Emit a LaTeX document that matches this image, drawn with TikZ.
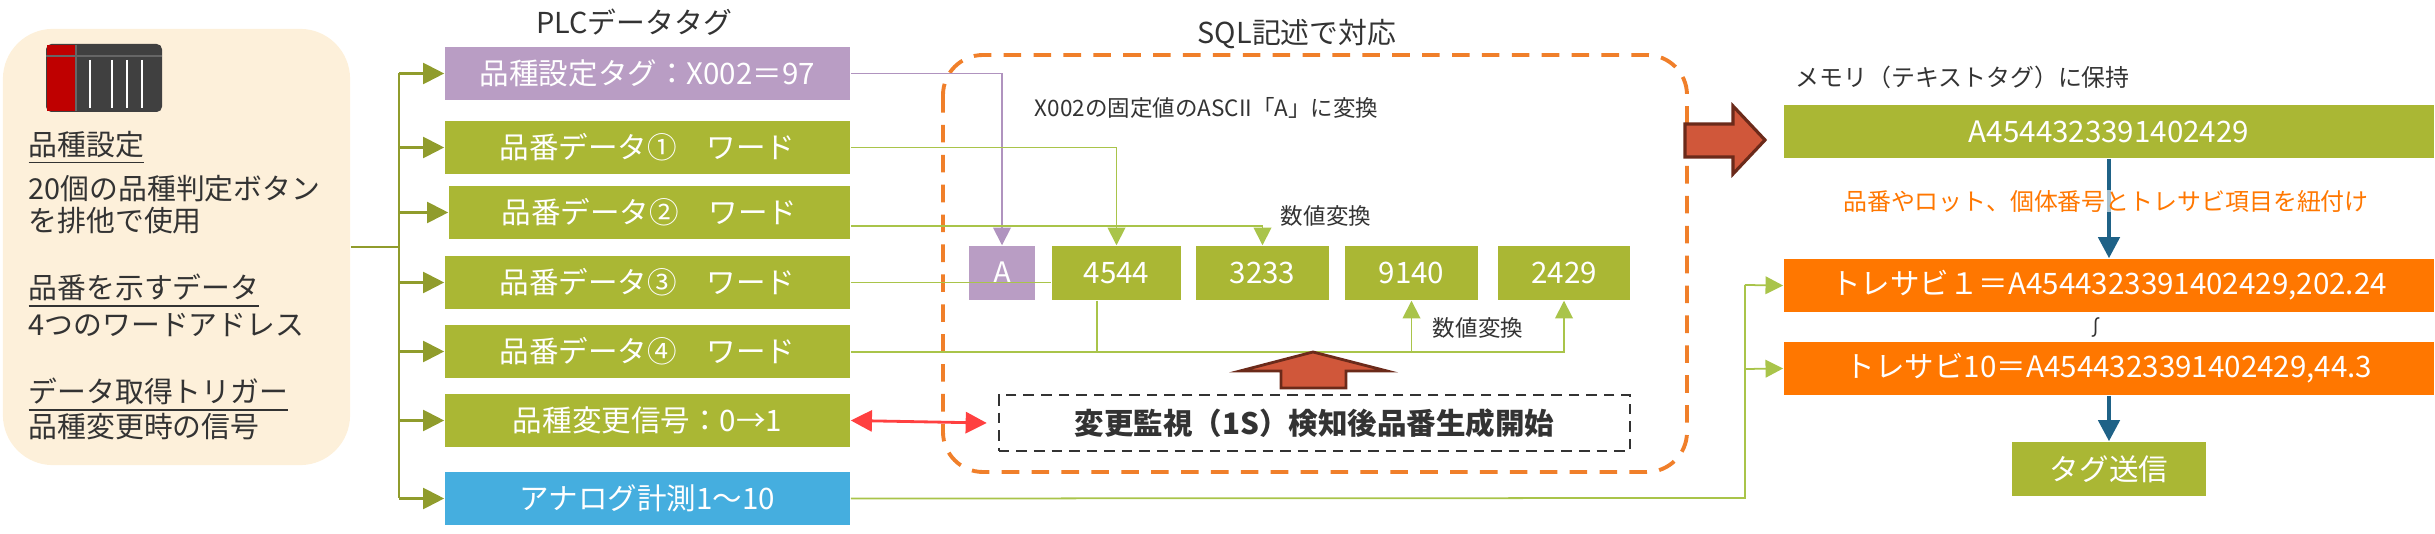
\documentclass[tikz,border=0pt]{standalone}
\usepackage{fontspec}
\setmainfont{Noto Sans CJK JP}
\usetikzlibrary{arrows.meta,shapes.arrows}
\definecolor{olive}{HTML}{AAB734}
\definecolor{lgreen}{HTML}{A9C44A}
\definecolor{purp}{HTML}{B99DC4}
\definecolor{lpurp}{HTML}{8E65A4}
\definecolor{sky}{HTML}{45AEDF}
\definecolor{org}{HTML}{FF7700}
\definecolor{dorg}{HTML}{F07F2A}
\definecolor{beige}{HTML}{FDF0DA}
\definecolor{redar}{HTML}{D0573A}
\definecolor{redbd}{HTML}{6B2A1A}
\definecolor{teal}{HTML}{1F6287}
\definecolor{txt}{HTML}{333333}
\begin{document}
\begin{tikzpicture}[x=0.01cm,y=-0.01cm,
  box/.style={fill=#1,text=white,inner sep=0pt,font=\fontsize{8.4pt}{10pt}\selectfont},
  tip/.style={-{Triangle[length=5pt,width=5pt]}},
  gl/.style={draw=lgreen,line width=0.5pt},
  lbl/.style={text=txt,font=\fontsize{6.4pt}{7pt}\selectfont,inner sep=0pt},
  lt/.style={text=txt,anchor=west,inner sep=0pt,font=\fontsize{8.2pt}{10pt}\selectfont}]
\useasboundingbox (0,0) rectangle (2435,534);
% left panel
\node[fill=beige,rounded corners=0.5cm,minimum width=3.47cm,minimum height=4.36cm,inner sep=0pt] (panel) at (176.5,247) {};
\fill[black!75,rounded corners=1.5pt] (46,44) rectangle (162,112);
\fill[red!75!black] (47,45) rectangle (76,111);
\foreach \x in {90,112,127,142}{\draw[white,line width=0.8pt] (\x,60) -- (\x,108);}
\draw[black!60] (76,45) -- (76,111) (46,56) -- (162,56);
\node[lt] (t1) at (28,148) {\underline{品種設定}};
\node[lt] (t2) at (28,189) {20個の品種判定ボタン};
\node[lt] (t3) at (28,221) {を排他で使用};
\node[lt] (t4) at (28,291) {\underline{品番を示すデータ}};
\node[lt] (t5) at (28,325) {4つのワードアドレス};
\node[lt] (t6) at (28,395) {\underline{データ取得トリガー}};
\node[lt] (t7) at (28,427) {品種変更時の信号};
% PLC tags
\node[lt,anchor=center] (plct) at (634,22) {PLCデータタグ};
\node[box=purp,minimum width=4.05cm,minimum height=0.53cm] (b1) at (647.5,73.5) {品種設定タグ：X002＝97};
\node[box=olive,minimum width=4.05cm,minimum height=0.53cm] (b2) at (647.5,147.5) {品番データ①\quad ワード};
\node[box=olive,minimum width=4.01cm,minimum height=0.53cm] (b3) at (649.5,212.5) {品番データ②\quad ワード};
\node[box=olive,minimum width=4.05cm,minimum height=0.53cm] (b4) at (647.5,282.5) {品番データ③\quad ワード};
\node[box=olive,minimum width=4.05cm,minimum height=0.53cm] (b5) at (647.5,351.5) {品番データ④\quad ワード};
\node[box=olive,minimum width=4.05cm,minimum height=0.53cm] (b6) at (647.5,420.5) {品種変更信号：0→1};
\node[box=sky,minimum width=4.05cm,minimum height=0.53cm] (b7) at (647.5,498.5) {アナログ計測1～10};
% bus
\coordinate (bus) at (399,247);
\draw[draw=olive!85!black,line width=0.6pt] (panel.east |- bus) -- (bus);
\draw[draw=olive!85!black,line width=0.6pt] (399,73) -- (399,498);
\foreach \b in {b1,b2,b3,b4,b5,b6,b7}{\draw[draw=olive!85!black,line width=0.6pt,-{Triangle[length=6pt,width=6pt]}] (399,0 |- \b.west) -- (\b.west);}
% SQL area
\node[lt,anchor=center] (sqlt) at (1297,34) {SQL記述で対応};
\draw[dorg,line width=1.1pt,dash pattern=on 5pt off 3.5pt,rounded corners=0.4cm] (943,55) rectangle (1687,472);
\node[lbl,anchor=west] (x002) at (1034,108) {X002の固定値のASCII「A」に変換};
\node[box=purp,minimum width=0.66cm,minimum height=0.54cm] (nA) at (1002,273) {A};
\node[box=olive,minimum width=1.29cm,minimum height=0.54cm] (n1) at (1116.5,273) {4544};
\node[box=olive,minimum width=1.33cm,minimum height=0.54cm] (n2) at (1262.5,273) {3233};
\node[box=olive,minimum width=1.33cm,minimum height=0.54cm] (n3) at (1411.5,273) {9140};
\node[box=olive,minimum width=1.32cm,minimum height=0.54cm] (n4) at (1564,273) {2429};
\draw[lpurp!70,line width=0.5pt,tip] (b1.east) -| (nA.north);
\draw[gl,tip] (b2.east) -| (n1.north);
\draw[gl,tip] (b3.east |- 0,226) -| (n2.north);
\node[lbl] (sv1) at (1326,216) {数値変換};
\draw[gl] (b4.east) -- (b4.east -| n1.west);
\coordinate (j5) at (1564,352);
\draw[gl,tip] (b5.east |- j5) -- (j5) -- (n4.south);
\draw[gl] ([xshift=-0.195cm]n1.south) -- ([xshift=-0.195cm]n1.south |- j5);
\draw[gl,tip] (n3.south |- j5) -- (n3.south);
\node[lbl] (sv2) at (1478,328) {数値変換};
\node[draw=black!80,dash pattern=on 3pt off 2pt,line width=0.6pt,minimum width=6.31cm,minimum height=0.56cm,inner sep=0pt,font=\bfseries\fontsize{8.4pt}{10pt}\selectfont,text=txt] (mon) at (1314.5,423) {変更監視（1S）検知後品番生成開始};
\draw[fill=redar,draw=redbd,line width=0.8pt] (1281,388) -- (1281,371) -- (1240,371) -- (1313,352) -- (1387,371) -- (1346,371) -- (1346,388) -- cycle;
\draw[red!75,line width=0.8pt,{Triangle[length=6pt,width=6pt]}-{Triangle[length=6pt,width=6pt]}] (b6.east) -- ([xshift=-0.11cm]mon.west);
% right
\draw[fill=redar,draw=redbd,line width=0.9pt] (1685,124) -- (1733,124) -- (1733,106) -- (1765,140) -- (1733,174) -- (1733,157) -- (1685,157) -- cycle;
\node[lbl,anchor=west,font=\fontsize{6.8pt}{8pt}\selectfont] (memt) at (1795,77) {メモリ（テキストタグ）に保持};
\node[box=olive,minimum width=6.5cm,minimum height=0.53cm] (mem) at (2109,131.5) {A4544323391402429};
\node[box=org,minimum width=6.5cm,minimum height=0.53cm] (tr1) at (2109,285.5) {トレサビ１＝A4544323391402429,202.24};
\node[box=org,minimum width=6.5cm,minimum height=0.53cm] (tr10) at (2109,368.5) {トレサビ10＝A4544323391402429,44.3};
\node[box=olive,minimum width=1.94cm,minimum height=0.54cm] (tag) at (2109,469) {タグ送信};
\draw[teal,line width=1.2pt,-{Triangle[length=6pt,width=6pt]}] (mem.south) -- (tr1.north);
\node[lbl,text=org,font=\fontsize{6.8pt}{8pt}\selectfont,fill=white,fill opacity=0.6,text opacity=1] (lnk) at (2106,201) {品番やロット、個体番号とトレサビ項目を紐付け};
\node[lbl,font=\fontsize{6pt}{7pt}\selectfont] (sq) at (2096,327) {∫};
\draw[teal,line width=1.2pt,-{Triangle[length=6pt,width=6pt]}] (tr10.south) -- (tag.north);
\coordinate (j7) at (1745,498);
\draw[gl] (b7.east) -- (j7) -- (1745,285);
\draw[gl,tip] (1745,285) -- (tr1.west);
\draw[gl,tip] (1745,369) -- (tr10.west);
\end{tikzpicture}
\end{document}
